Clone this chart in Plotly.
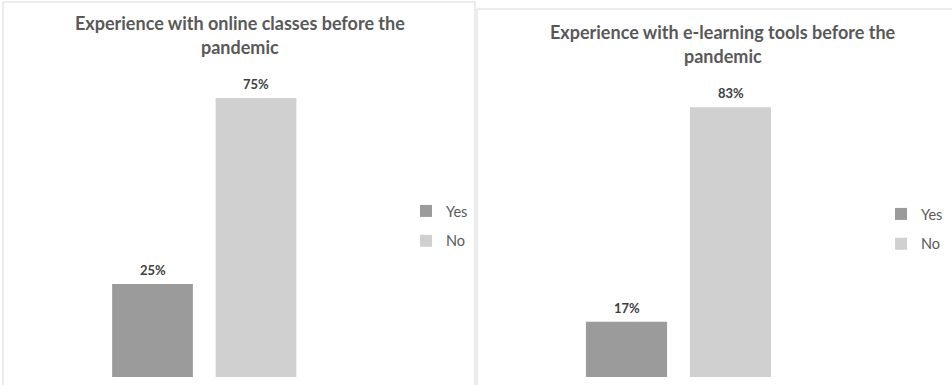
import plotly.graph_objects as go

W, H = 952, 385

categories = ["Yes", "No"]
online_classes = [25, 75]
elearning_tools = [17, 83]
titles = [
    ["Experience with online classes before the", "pandemic"],
    ["Experience with e-learning tools before the", "pandemic"],
]
colors = {"Yes": "#9B9B9B", "No": "#D0D0D0"}
TEXT = "#595959"
FONT = "Lato"


def px_x(p):
    return p / W


def px_y(p):
    return 1 - p / H


fig = go.Figure()

panels = [
    dict(values=online_classes, xa="x", ya="y", legend="legend"),
    dict(values=elearning_tools, xa="x2", ya="y2", legend="legend2"),
]

for pi, p in enumerate(panels):
    for cat, val in zip(categories, p["values"]):
        fig.add_trace(go.Bar(
            x=[cat], y=[val], name=cat, width=0.78,
            marker=dict(color=colors[cat], line=dict(width=0)),
            xaxis=p["xa"], yaxis=p["ya"], legend=p["legend"],
            legendgroup=f"{pi}-{cat}", hoverinfo="skip",
        ))
        fig.add_annotation(
            x=cat, y=val, xref=p["xa"], yref=p["ya"], text=f"<b>{val}%</b>",
            showarrow=False, yanchor="bottom", yshift=4,
            font=dict(family=FONT, size=13, color="#404040"),
        )

# titles
title_pos = [(240, 23, 47), (723, 32, 56)]
for (cx, y1, y2), lines in zip(title_pos, titles):
    for yy, line in zip((y1, y2), lines):
        fig.add_annotation(
            x=px_x(cx), y=px_y(yy), xref="paper", yref="paper",
            text=f"<b>{line}</b>", showarrow=False,
            xanchor="center", yanchor="middle",
            font=dict(family=FONT, size=18, color=TEXT),
        )

# panel borders
fig.add_shape(type="rect", xref="paper", yref="paper",
              x0=px_x(3), x1=px_x(475), y0=px_y(400), y1=px_y(2),
              line=dict(color="#D9D9D9", width=1), fillcolor="rgba(0,0,0,0)", layer="below")
fig.add_shape(type="rect", xref="paper", yref="paper",
              x0=px_x(477), x1=px_x(960), y0=px_y(400), y1=px_y(9),
              line=dict(color="#D9D9D9", width=1), fillcolor="rgba(0,0,0,0)", layer="below")

axis_common = dict(showgrid=False, zeroline=False, showline=False,
                   showticklabels=False, ticks="", fixedrange=True)

legend_common = dict(
    font=dict(family=FONT, size=14.5, color=TEXT),
    bgcolor="rgba(0,0,0,0)", borderwidth=0,
    xanchor="left", yanchor="top", traceorder="grouped",
    tracegroupgap=8, itemwidth=30,
)

fig.update_layout(
    width=W, height=H, margin=dict(l=0, r=0, t=0, b=0),
    paper_bgcolor="white", plot_bgcolor="rgba(0,0,0,0)",
    barmode="relative", showlegend=True,
    xaxis=dict(domain=[px_x(100.75), px_x(307.75)], range=[-0.5, 1.5],
               categoryorder="array", categoryarray=categories, **axis_common),
    yaxis=dict(domain=[px_y(377), px_y(377 - 80 * 3.72)], range=[0, 80], **axis_common),
    xaxis2=dict(domain=[px_x(574.5), px_x(782.5)], range=[-0.5, 1.5],
                categoryorder="array", categoryarray=categories, anchor="y2", **axis_common),
    yaxis2=dict(domain=[px_y(377), px_y(377 - 90 * 3.25)], range=[0, 90], anchor="x2",
                **axis_common),
    legend=dict(x=px_x(406), y=px_y(195), **legend_common),
    legend2=dict(x=px_x(881), y=px_y(198), **legend_common),
)

fig.write_html("out.html")
